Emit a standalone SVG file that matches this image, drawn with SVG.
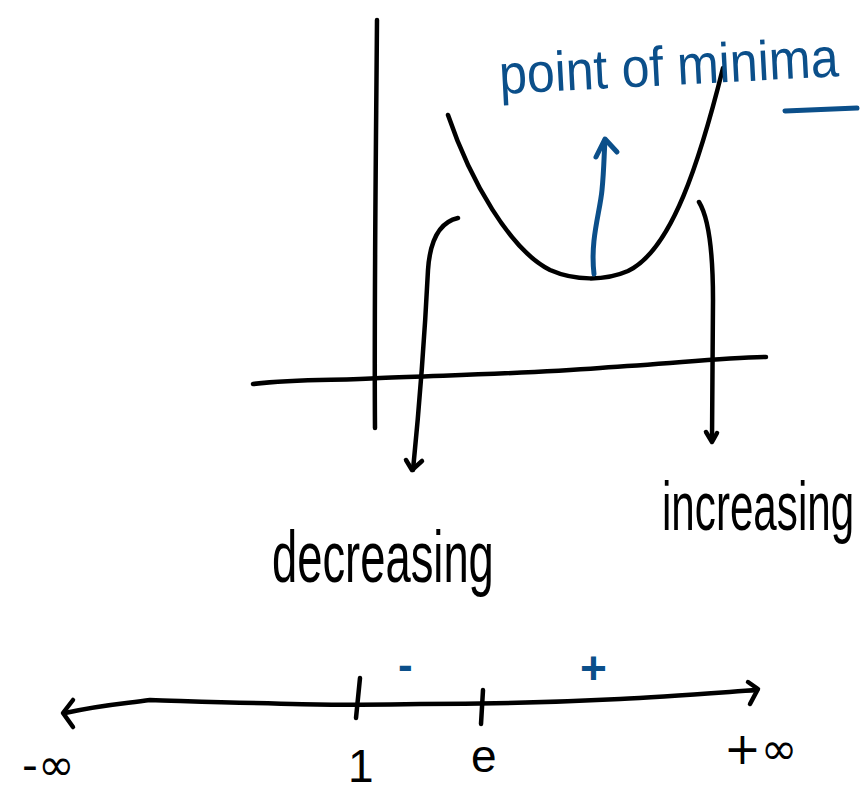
<svg xmlns="http://www.w3.org/2000/svg" width="867" height="792" viewBox="0 0 867 792">
<style>
.ink{fill:none;stroke:#000;stroke-width:4.5;stroke-linecap:round;stroke-linejoin:round}
.blue{fill:none;stroke:#0b4f8a;stroke-width:5;stroke-linecap:round;stroke-linejoin:round}
.hw{font-family:"Liberation Sans",sans-serif;fill:#000}
.sym{font-family:"DejaVu Sans",sans-serif;fill:#000}
.hb{font-family:"Liberation Sans",sans-serif;fill:#0b4f8a}
</style>
<rect width="867" height="792" fill="#fff"/>
<g id="graph">
<path class="ink" d="M377,20 C376,150 374,300 375,428"/>
<path class="ink" d="M253,384 C300,378 340,381 380,378 C450,375 520,374 600,368 C680,363 720,358 766,357"/>
<path class="ink" d="M448,115 C470,180 510,250 550,270 C575,281 605,281 628,271 C672,250 700,160 723,68"/>
</g>
<g id="connectors">
<path class="blue" d="M594,274 C590,240 600,212 602,190 C604,170 604,155 605,140"/>
<path class="blue" d="M596,157 L605,139 L617,152"/>
<path class="ink" d="M458,218 C440,222 430,240 428,270 C425,330 420,400 413,470"/>
<path class="ink" d="M406,460 L412,470 L422,461"/>
<path class="ink" d="M699,202 C710,220 713,260 713,300 L712,440"/>
<path class="ink" d="M706,432 L712,442 L717,433"/>
</g>
<g id="label-minima">
<text class="hb" x="0" y="0" font-size="56" transform="translate(500,94) rotate(-3) scale(0.895,1)">point of minima</text>
<path class="blue" d="M785,111 L857,108"/>
</g>
<g id="label-decreasing">
<text class="hw" x="0" y="0" font-size="72" transform="translate(272,582) scale(0.63,1)">decreasing</text>
</g>
<g id="label-increasing">
<text class="hw" x="0" y="0" font-size="68" transform="translate(662,530) scale(0.62,1)">increasing</text>
</g>
<g id="number-line">
<path class="ink" d="M65,713 C100,705 120,704 150,700 C250,703 330,706 420,704 C520,704 580,701 620,699 C660,697 700,694 757,690"/>
<path class="ink" d="M73,700 L63,713 L73,727"/>
<path class="ink" d="M748,682 L758,689 L750,704"/>
<path class="ink" d="M360,678 L356,718"/>
<path class="ink" d="M483,690 L481,724"/>
<text class="hb" x="398" y="680" font-size="44" font-weight="bold">-</text>
<text class="hb" x="580" y="684" font-size="46" font-weight="bold">+</text>
<text class="sym" x="22" y="780" font-size="44">-∞</text>
<text class="hw" x="348" y="782" font-size="46">1</text>
<text class="hw" x="471" y="772" font-size="46">e</text>
<text class="sym" x="724" y="764" font-size="44">+∞</text>
</g>
</svg>
